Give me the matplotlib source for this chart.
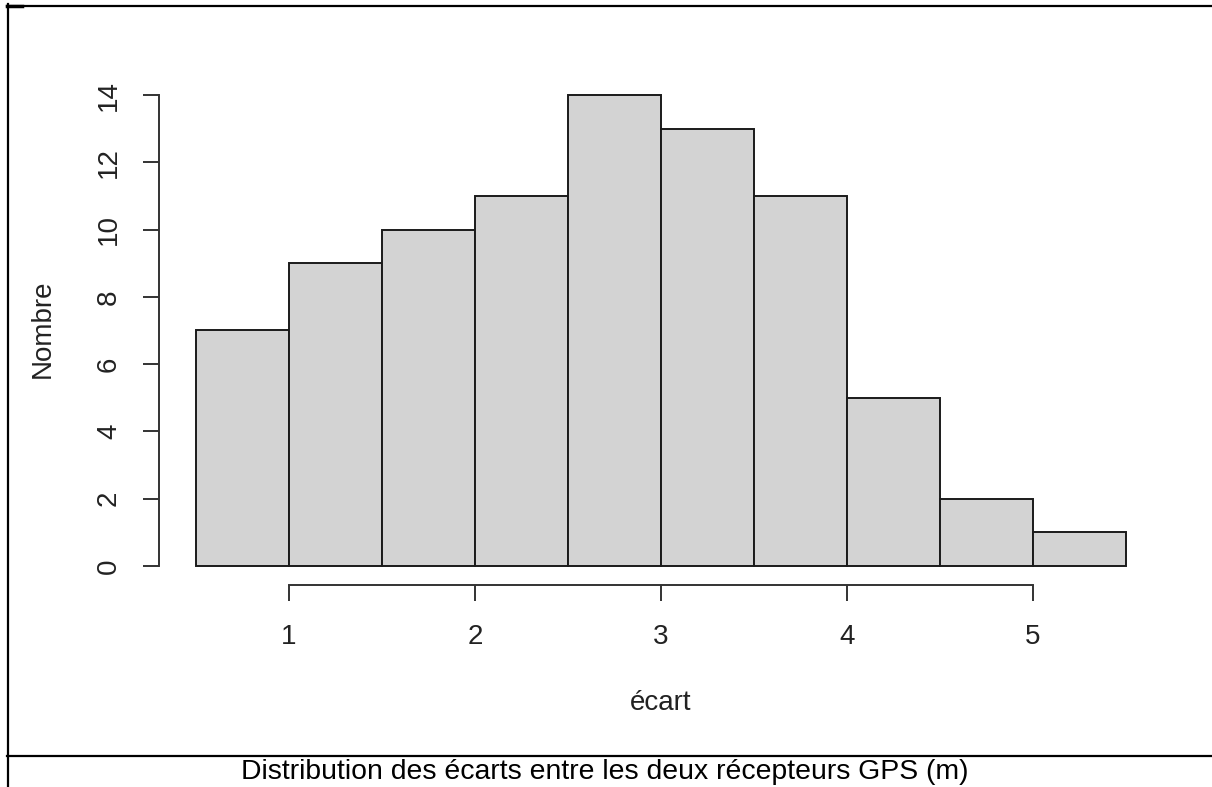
import matplotlib
matplotlib.use("Agg")
import matplotlib.pyplot as plt
from matplotlib.lines import Line2D

# Data
bin_edges = [0.5, 1.0, 1.5, 2.0, 2.5, 3.0, 3.5, 4.0, 4.5, 5.0, 5.5]
counts = [7, 9, 10, 11, 14, 13, 11, 5, 2, 1]
x_ticks = [1, 2, 3, 4, 5]
y_ticks = [0, 2, 4, 6, 8, 10, 12, 14]
x_label = "écart"
y_label = "Nombre"
caption = "Distribution des écarts entre les deux récepteurs GPS (m)"

plt.rcParams['font.family'] = ['Liberation Sans', 'DejaVu Sans']

W, H = 1212, 787
fig = plt.figure(figsize=(W / 100, H / 100), dpi=100)

def fx(px):
    return px / W

def fy(py):
    return 1 - py / H

left, right = 158.8, 1163.2
top, bottom = 76.2, 584.8
ax = fig.add_axes([fx(left), fy(bottom), fx(right) - fx(left), fy(top) - fy(bottom)])

widths = [bin_edges[i + 1] - bin_edges[i] for i in range(len(counts))]
ax.bar(bin_edges[:-1], counts, width=widths, align='edge',
       color='#D3D3D3', edgecolor='#1a1a1a', linewidth=1.4)

ax.set_xlim(0.3, 5.7)
ax.set_ylim(-0.56, 14.56)

for s in ['top', 'right']:
    ax.spines[s].set_visible(False)
ax.spines['bottom'].set_bounds(x_ticks[0], x_ticks[-1])
ax.spines['left'].set_bounds(y_ticks[0], y_ticks[-1])
for s in ['bottom', 'left']:
    ax.spines[s].set_color('#333333')
    ax.spines[s].set_linewidth(1.4)

ax.set_xticks(x_ticks)
ax.set_xticklabels([str(v) for v in x_ticks])
ax.set_yticks(y_ticks)
ax.set_yticklabels([str(v) for v in y_ticks], rotation=90, va='center')
ax.tick_params(axis='both', direction='out', length=11.5, width=1.4,
               color='#333333', labelsize=20, labelcolor='#222222')
ax.tick_params(axis='x', pad=16.5)
ax.tick_params(axis='y', pad=15)

fig.text(fx(661), fy(703), x_label, ha='center', va='center', fontsize=20, color='#222222')
fig.text(fx(42.5), fy(329), y_label, ha='center', va='center', rotation=90,
         fontsize=20, color='#222222')

# Document frame lines
lw = 1.6
fig.add_artist(Line2D([fx(7.5), fx(7.5)], [fy(4), fy(787)], color='black', lw=lw))
fig.add_artist(Line2D([fx(7), fx(1212)], [fy(5.5), fy(5.5)], color='black', lw=lw))
fig.add_artist(Line2D([fx(7), fx(22)], [fy(5.5), fy(5.5)], color='black', lw=2.5))
fig.add_artist(Line2D([fx(7), fx(1212)], [fy(756), fy(756)], color='black', lw=lw))

fig.text(fx(605), fy(772), caption, ha='center', va='center', fontsize=20.4, color='black')

fig.savefig("out.png", dpi=100)
